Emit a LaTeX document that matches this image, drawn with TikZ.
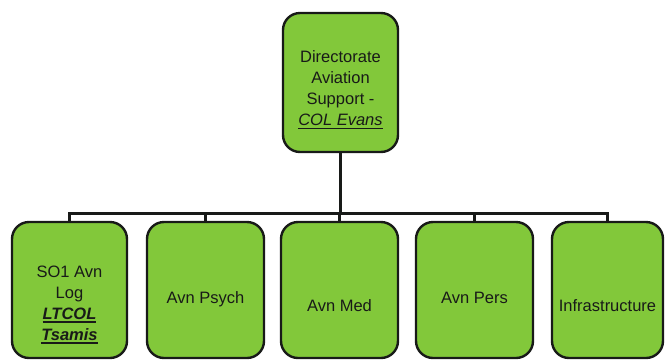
\documentclass[tikz,border=0pt]{standalone}
\usepackage{fontspec}
\setmainfont{Liberation Sans}
\newsavebox\ulxbox
\newcommand\ulx[1]{\sbox\ulxbox{#1}\leavevmode\rlap{\usebox\ulxbox}\rule[-3.4pt]{\wd\ulxbox}{1.6pt}}
\definecolor{boxgreen}{RGB}{130,200,58}
\definecolor{ink}{RGB}{24,26,24}
\tikzset{
  orgbox/.style={draw=ink, line width=2.4pt, fill=boxgreen, rounded corners=17pt, inner sep=0pt},
  orgtext/.style={text=ink, align=center, inner sep=0pt, font=\fontsize{16.5}{21}\selectfont},
  conn/.style={draw=ink, line width=3pt}
}
\begin{document}
\begin{tikzpicture}[x=1pt,y=-1pt]
\useasboundingbox (0,0) rectangle (665,360);
% top box
\node[orgbox, minimum width=115pt, minimum height=139pt] (dir) at (340.5,82.5) {};
\node[orgtext] (dirt) at (340.5,90) {Directorate\\Aviation\\Support -\\\ulx{\textit{COL Evans}}};
% bottom boxes
\node[orgbox, minimum width=115pt, minimum height=136pt] (b1) at (69.5,290) {};
\node[orgbox, minimum width=117pt, minimum height=136pt] (b2) at (205.5,290) {};
\node[orgbox, minimum width=117pt, minimum height=136pt] (b3) at (339.5,290) {};
\node[orgbox, minimum width=117pt, minimum height=136pt] (b4) at (474.5,290) {};
\node[orgbox, minimum width=111pt, minimum height=136pt] (b5) at (607.5,290) {};
\node[orgtext] (b1t) at (69.5,305) {SO1 Avn\\Log\\\ulx{\textbf{\textit{LTCOL}}}\\\ulx{\textbf{\textit{Tsamis}}}};
\node[orgtext, anchor=base] (b2t) at (205.5,303) {Avn Psych};
\node[orgtext, anchor=base] (b3t) at (339.5,311) {Avn Med};
\node[orgtext, anchor=base] (b4t) at (474.5,303) {Avn Pers};
\node[orgtext, anchor=base] (b5t) at (607.5,311) {Infrastructure};
% connectors
\coordinate (bus) at (0,213);
\draw[conn] (dir.south) -- (dir.south |- bus);
\draw[conn, line cap=rect] (b1.north) -- (b1.north |- bus) -- (b5.north |- bus) -- (b5.north);
\draw[conn] (b2.north) -- (b2.north |- bus);
\draw[conn] (b3.north) -- (b3.north |- bus);
\draw[conn] (b4.north) -- (b4.north |- bus);
\end{tikzpicture}
\end{document}
